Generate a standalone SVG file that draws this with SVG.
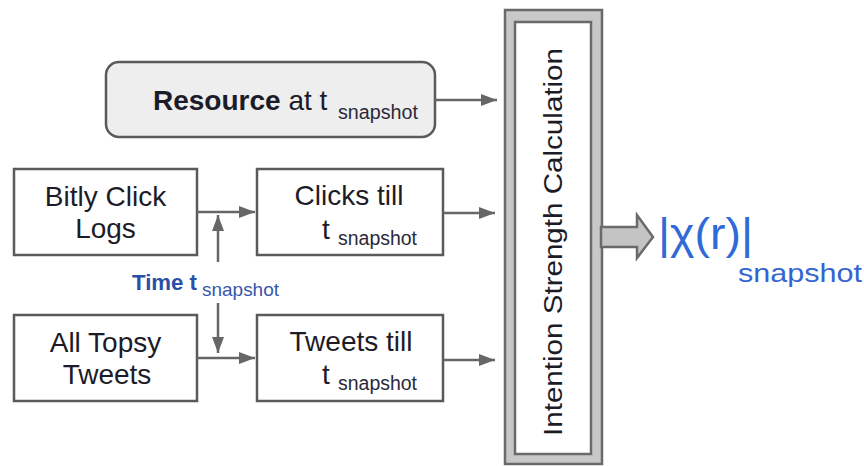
<svg xmlns="http://www.w3.org/2000/svg" width="864" height="466" viewBox="0 0 864 466">
<style>
.box{fill:#ffffff;stroke:#5a5a5a;stroke-width:2.5}
.t{font-family:"Liberation Sans",Arial,sans-serif;font-size:28px;fill:#1c1c28}
.sub{font-family:"Liberation Sans",Arial,sans-serif;font-size:20px;fill:#2a2a3a}
.ln{stroke:#666666;stroke-width:2.5;fill:none}
</style>
<defs>
<marker id="ah" viewBox="0 0 16 12" refX="16" refY="6" markerWidth="16" markerHeight="12" markerUnits="userSpaceOnUse" orient="auto">
<path d="M0,0 L16,6 L0,12 Z" fill="#666666"/>
</marker>
</defs>
<rect width="864" height="466" fill="#ffffff"/>
<g id="resource">
<rect x="106" y="62" width="329" height="75" rx="13" ry="13" fill="#eeeeee" stroke="#5a5a5a" stroke-width="2.5"/>
<text class="t" x="153" y="110"><tspan font-weight="bold">Resource</tspan> at t</text>
<text class="sub" x="338" y="119" textLength="80" lengthAdjust="spacingAndGlyphs">snapshot</text>
</g>
<g id="bitly">
<rect class="box" x="14" y="169" width="183" height="86"/>
<text class="t" x="105.5" y="206" text-anchor="middle">Bitly Click</text>
<text class="t" x="105.5" y="238" text-anchor="middle">Logs</text>
</g>
<g id="clicks">
<rect class="box" x="257" y="169" width="186" height="86"/>
<text class="t" x="349" y="205" text-anchor="middle">Clicks till</text>
<text class="t" x="322" y="239">t</text>
<text class="sub" x="338" y="245" textLength="79" lengthAdjust="spacingAndGlyphs">snapshot</text>
</g>
<g id="time">
<text x="132" y="290" font-family="Liberation Sans, Arial, sans-serif" font-size="22" font-weight="bold" fill="#2b4ea6" textLength="65" lengthAdjust="spacingAndGlyphs">Time t</text>
<text x="202" y="296" font-family="Liberation Sans, Arial, sans-serif" font-size="19" fill="#3558aa" textLength="77" lengthAdjust="spacingAndGlyphs">snapshot</text>
</g>
<g id="topsy">
<rect class="box" x="14" y="315" width="183" height="86"/>
<text class="t" x="105.5" y="352" text-anchor="middle">All Topsy</text>
<text class="t" x="107" y="384" text-anchor="middle">Tweets</text>
</g>
<g id="tweets">
<rect class="box" x="257" y="315" width="186" height="86"/>
<text class="t" x="351" y="351" text-anchor="middle">Tweets till</text>
<text class="t" x="322" y="384">t</text>
<text class="sub" x="338" y="390" textLength="79" lengthAdjust="spacingAndGlyphs">snapshot</text>
</g>
<g id="calc">
<rect x="505" y="10" width="97" height="454" fill="#c8c8c8" stroke="#6a6a6a" stroke-width="2.5"/>
<rect x="515" y="22" width="76" height="432" fill="#ffffff" stroke="#6a6a6a" stroke-width="2.5"/>
<text class="t" font-size="25" transform="translate(562,242) rotate(-90)" text-anchor="middle" textLength="388" lengthAdjust="spacingAndGlyphs" style="font-size:25px">Intention Strength Calculation</text>
</g>
<g id="output">
<text x="658" y="249" font-family="Liberation Sans, Arial, sans-serif" font-size="44" fill="#2f6ad6" textLength="95" lengthAdjust="spacingAndGlyphs">|χ(r)|</text>
<text x="738" y="282" font-family="Liberation Sans, Arial, sans-serif" font-size="26" fill="#3364d2" textLength="124" lengthAdjust="spacingAndGlyphs">snapshot</text>
</g>
<g id="connectors">
<line class="ln" x1="435" y1="100" x2="497" y2="100" marker-end="url(#ah)"/>
<line class="ln" x1="197" y1="212" x2="255" y2="212" marker-end="url(#ah)"/>
<line class="ln" x1="443" y1="213" x2="495" y2="213" marker-end="url(#ah)"/>
<line class="ln" x1="218" y1="262" x2="218" y2="215" marker-end="url(#ah)"/>
<line class="ln" x1="218" y1="303" x2="218" y2="353" marker-end="url(#ah)"/>
<line class="ln" x1="197" y1="358" x2="255" y2="358" marker-end="url(#ah)"/>
<line class="ln" x1="443" y1="360" x2="495" y2="360" marker-end="url(#ah)"/>
<path d="M601,227 L637,227 L637,215 L653,237 L637,258 L637,247 L601,247 Z" fill="#c4c4c4" stroke="#6a6a6a" stroke-width="2.5" stroke-linejoin="miter"/>
</g>
</svg>
